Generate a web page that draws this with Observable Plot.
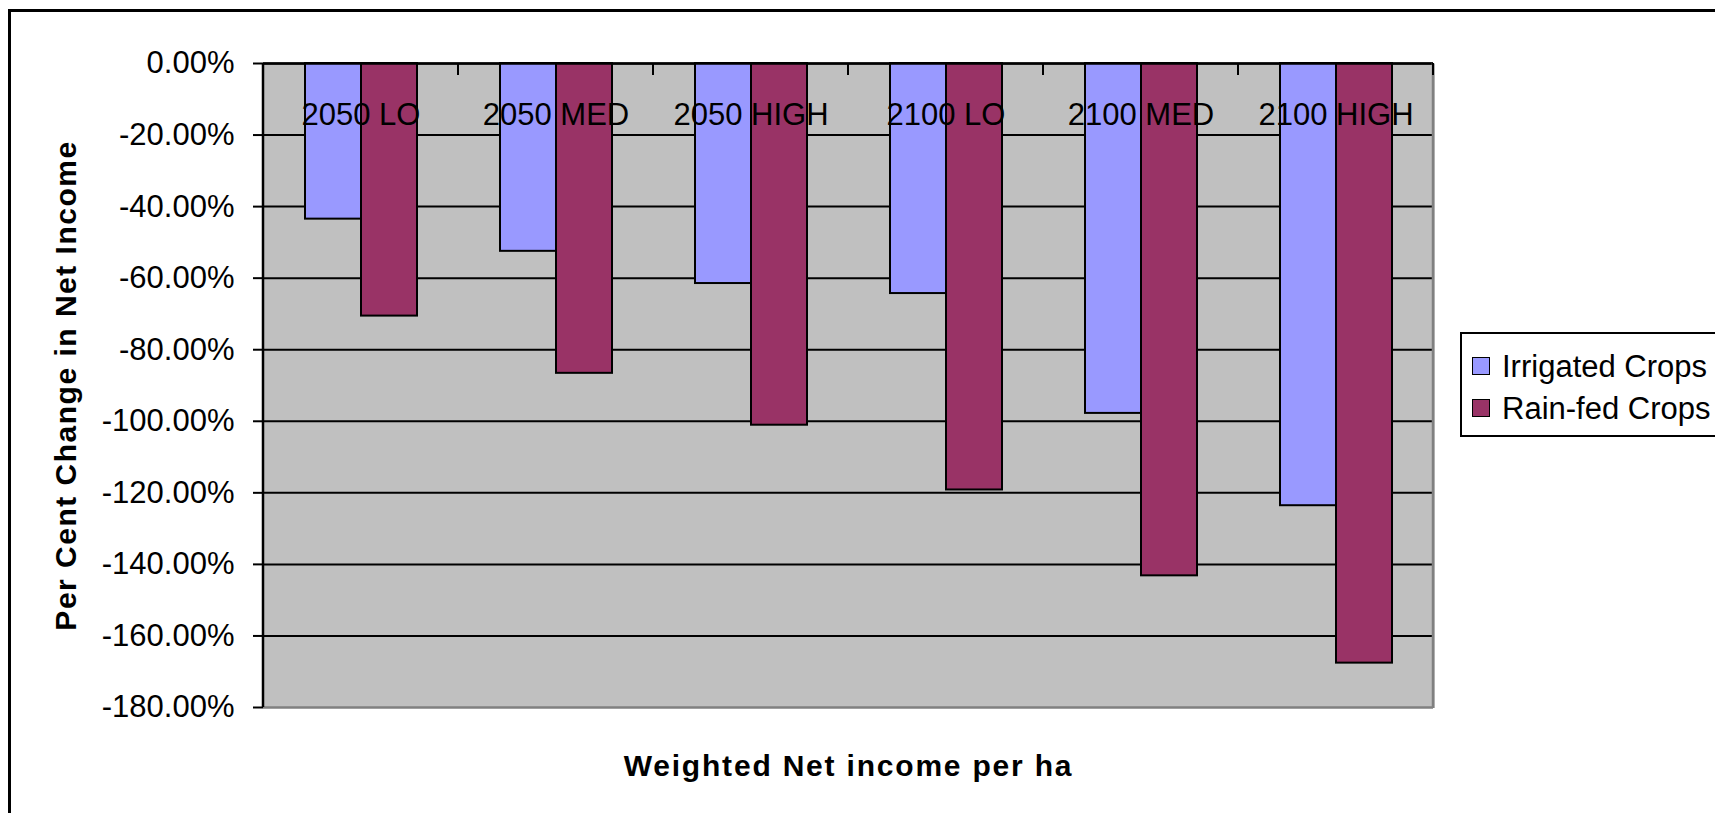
<!DOCTYPE html>
<html>
<head>
<meta charset="utf-8">
<script src="https://cdn.jsdelivr.net/npm/d3@7"></script>
<script src="https://cdn.jsdelivr.net/npm/@observablehq/plot@0.6"></script>
<style>
  html, body { margin: 0; padding: 0; background: #fff; overflow: hidden; }
  #wrap { position: relative; width: 1715px; height: 813px; overflow: hidden; font-family: "Liberation Sans", Arial, sans-serif; }
  #border { position: absolute; left: 8px; top: 9px; width: 1800px; height: 900px; border: 3px solid #000; box-sizing: border-box; }
  #chart { position: absolute; left: 0; top: 0; }
  g[aria-label="y-axis label"] text, g[aria-label="fx-axis label"] text { font-weight: bold; font-size: 30px; }
  g[aria-label="y-axis label"] text { letter-spacing: 1.5px; }
  g[aria-label="fx-axis label"] text { letter-spacing: 1.8px; }
  #legend { position: absolute; left: 1460px; top: 332px; width: 320px; height: 105px; border: 2px solid #000; box-sizing: border-box; background: #fff; }
  .row { position: absolute; left: 10px; height: 40px; display: flex; align-items: center; font-size: 31px; line-height: 1; color: #000; white-space: nowrap; }
  .sw { width: 18px; height: 18px; border: 1.5px solid #000; box-sizing: border-box; margin-right: 12px; }
</style>
</head>
<body>
<div id="wrap">
  <div id="border"></div>
  <div id="chart"></div>
  <div id="legend"></div>
</div>
<script>
// ---- data ----
const scenarios = ["2050 LO", "2050 MED", "2050 HIGH", "2100 LO", "2100 MED", "2100 HIGH"];
const series = ["Irrigated Crops", "Rain-fed Crops"];
const irrigated = [-43.5, -52.5, -61.5, -64.3, -97.8, -123.6];
const rainfed = [-70.6, -86.6, -101.1, -119.2, -143.2, -167.6];
const yTicks = [0, -20, -40, -60, -80, -100, -120, -140, -160, -180];
const seriesColors = ["#9999FF", "#993366"];
const yTitle = "Per Cent Change in Net Income";
const xTitle = "Weighted Net income per ha";

const data = scenarios.flatMap((s, i) => [
  {scenario: s, series: series[0], value: irrigated[i]},
  {scenario: s, series: series[1], value: rainfed[i]}
]);

const plot = Plot.plot({
  width: 1715,
  height: 813,
  marginLeft: 263,
  marginRight: 282,
  marginTop: 63,
  marginBottom: 106,
  style: {fontFamily: "'Liberation Sans', Arial, sans-serif", fontSize: "31px", color: "#000", background: "transparent", overflow: "visible"},
  fx: {domain: scenarios, padding: 0},
  x: {domain: series, paddingInner: 0, paddingOuter: 0.726, axis: null},
  y: {domain: [-180, 0]},
  color: {domain: series, range: seriesColors},
  marks: [
    Plot.frame({fill: "#C0C0C0", stroke: null, insetLeft: -1, insetRight: -1, shapeRendering: "crispEdges"}),
    Plot.gridY(yTicks.filter(d => d > -180), {stroke: "#000", strokeOpacity: 1, strokeWidth: 2}),
    Plot.barY(data, {fx: "scenario", x: "series", y: "value", fill: "series", stroke: "#000", strokeWidth: 2}),
    Plot.ruleY([0], {stroke: "#000", strokeWidth: 2.5}),
    Plot.ruleY([-180], {stroke: "#808080", strokeWidth: 2.5}),
    Plot.text(scenarios, {fx: d => d, text: d => d, frameAnchor: "top", dy: 39, fontSize: 31, fill: "#000"}),
    Plot.axisY({
      ticks: yTicks, tickSize: 10, tickPadding: 19, strokeWidth: 2,
      tickFormat: d => d.toFixed(2) + "%", fontSize: 31,
      label: yTitle, labelAnchor: "center", labelArrow: "none", labelOffset: 209
    }),
    Plot.axisFx({
      anchor: "bottom", tickSize: 0, tickFormat: () => "",
      label: xTitle, labelAnchor: "center", labelArrow: "none", labelOffset: 68
    })
  ]
});
document.getElementById("chart").appendChild(plot);

// frame edges and category separators, from Plot's own scales
const svg = d3.select(plot);
const ys = plot.scale("y");
const fxs = plot.scale("fx");
const y0 = ys.apply(0), y1 = ys.apply(-180);
const band = d3.scaleBand().domain(fxs.domain).range(fxs.range).padding(0);
const xl = band.range()[0], xr = band.range()[1];
const g = svg.append("g");
g.append("line").attr("x1", xr).attr("x2", xr).attr("y1", y0).attr("y2", y1 + 1).attr("stroke", "#808080").attr("stroke-width", 2.5);
g.append("line").attr("x1", xl).attr("x2", xl).attr("y1", y0).attr("y2", y1).attr("stroke", "#000").attr("stroke-width", 2.5);
g.selectAll(".sep").data(fxs.domain).join("line")
  .attr("x1", d => band(d) + band.bandwidth()).attr("x2", d => band(d) + band.bandwidth())
  .attr("y1", y0).attr("y2", y0 + 12).attr("stroke", "#000").attr("stroke-width", 2);

// legend
const legend = document.getElementById("legend");
series.forEach((s, i) => {
  const row = document.createElement("div");
  row.className = "row";
  row.style.top = (12 + i * 42) + "px";
  const sw = document.createElement("div");
  sw.className = "sw";
  sw.style.background = seriesColors[i];
  const t = document.createElement("span");
  t.textContent = s;
  row.appendChild(sw); row.appendChild(t);
  legend.appendChild(row);
});
</script>
</body>
</html>
